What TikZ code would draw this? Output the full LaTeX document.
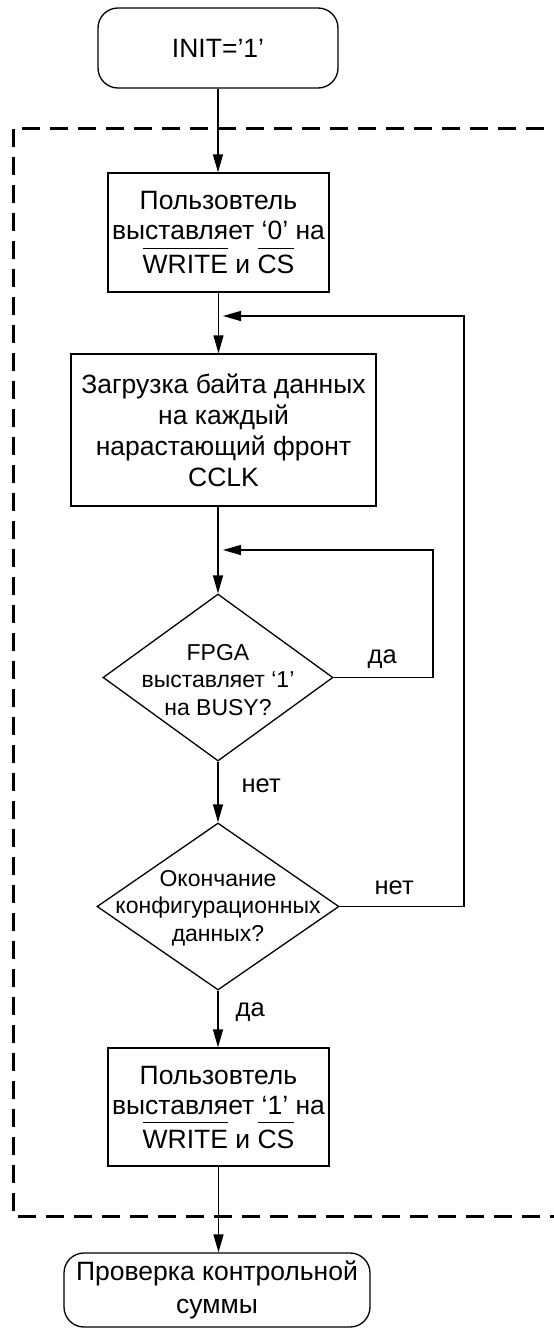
\documentclass[tikz,border=0pt]{standalone}
\usepackage{fontspec}
\setmainfont{Liberation Sans}
\usetikzlibrary{arrows.meta,shapes.geometric}
\newlength\ovlw
\newcommand\ovl[1]{\settowidth\ovlw{#1}\makebox[0pt][l]{\rule[0.93em]{\ovlw}{0.9pt}}#1}
\tikzset{
  flowbox/.style={draw, rectangle, inner sep=0pt, align=center, font=\fontsize{26.5}{31}\selectfont},
  term/.style={draw, rectangle, rounded corners=20pt, inner sep=0pt, align=center, font=\fontsize{26.5}{32.5}\selectfont},
  decide/.style={draw, diamond, inner sep=0pt},
  dtext/.style={align=center, inner sep=0pt, font=\fontsize{23}{27.5}\selectfont},
  lbl/.style={inner sep=0pt, font=\fontsize{25.5}{30}\selectfont},
  arr/.style={-{Triangle[length=18pt,width=10pt]}},
  region/.style={draw, dash pattern=on 18pt off 10pt, line width=3pt}
}
\begin{document}
\begin{tikzpicture}[x=1pt,y=-1pt,line width=1.3pt]
\clip (0,0) rectangle (554,1328);

\draw[region] (600,128) -- (13,128) -- (13,1216) -- (600,1216);

\node[term, minimum width=240pt, minimum height=80pt] (init) at (218,48) {INIT=’1’};

\node[flowbox, minimum width=221pt, minimum height=119pt] (b1) at (218.5,232.5)
  {Пользовтель\\[-1pt] выставляет ‘0’ на\\[3pt] \ovl{WRITE} и \ovl{CS}};

\node[flowbox, minimum width=305pt, minimum height=152pt] (b2) at (223.5,430)
  {Загрузка байта данных\\ на каждый\\ нарастающий фронт\\ CCLK};

\node[decide, minimum width=230pt, minimum height=167pt] (d1) at (218,677.5) {};
\node[dtext] (d1t) at (218,680) {FPGA\\ выставляет ‘1’\\ на BUSY?};

\node[decide, minimum width=242pt, minimum height=167pt] (d2) at (218,906.5) {};
\node[dtext] (d2t) at (218,908) {Окончание\\ конфигурационных\\ данных?};

\node[flowbox, minimum width=221pt, minimum height=118pt] (b3) at (218.5,1107)
  {Пользовтель\\[-1pt] выставляет ‘1’ на\\[3pt] \ovl{WRITE} и \ovl{CS}};

\node[term, minimum width=306pt, minimum height=74pt] (fin) at (217,1290)
  {Проверка контрольной\\ суммы};

\coordinate (j1) at (223,316);
\coordinate (j2) at (223,550);

\draw[arr] (init.south) -- (init.south |- b1.north);
\draw[arr] (b1.south) -- (b1.south |- b2.north);
\draw[arr] (b2.south -| d1.north) -- (d1.north);
\draw[arr] (d1.south) -- (d2.north);
\draw[arr] (d2.south) -- (d2.south |- b3.north);
\draw[arr] (b3.south) -- (b3.south |- fin.north);

\draw[arr] (d1.east) -- (433,677.5) -- (433,550) -- (j2);
\draw[arr] (d2.east) -- (464,906.5) -- (464,316) -- (j1);

\node[lbl, anchor=base west] (yes1) at (367,663) {да};
\node[lbl, anchor=base west] (no1) at (241,792) {нет};
\node[lbl, anchor=base west] (no2) at (374,894) {нет};
\node[lbl, anchor=base west] (yes2) at (235,1016) {да};
\end{tikzpicture}
\end{document}
